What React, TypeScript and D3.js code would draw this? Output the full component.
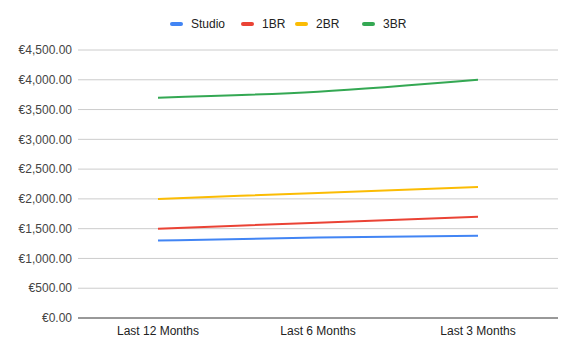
import React from "react";
import * as d3 from "d3";

const categories = ["Last 12 Months", "Last 6 Months", "Last 3 Months"];
const seriesNames = ["Studio", "1BR", "2BR", "3BR"];
const studio = [1300, 1350, 1380];
const br1 = [1500, 1600, 1700];
const br2 = [2000, 2100, 2200];
const br3 = [3700, 3800, 4000];
const colors = ["#4285F4", "#EA4335", "#FBBC04", "#34A853"];
const yTicks = [0, 500, 1000, 1500, 2000, 2500, 3000, 3500, 4000, 4500];

const W = 576;
const H = 356;
const FONT = "Arial, 'Liberation Sans', sans-serif";

export default function App() {
  const x = d3.scaleBand().domain(categories).range([78, 558]);
  const y = d3.scaleLinear().domain([0, 4500]).range([318, 50]);
  const data = [studio, br1, br2, br3];
  const line = d3
    .line<number>()
    .x((_, i) => (x(categories[i]) as number) + x.bandwidth() / 2)
    .y((d) => y(d))
    .curve(d3.curveMonotoneX);
  const fmt = (v: number) => "€" + d3.format(",.2f")(v);
  const legendX = [170, 241, 295, 362];

  return (
    <svg
      width={W}
      height={H}
      style={{ position: "absolute", left: 0, top: 0, background: "#fff" }}
      fontFamily={FONT}
    >
      <rect width={W} height={H} fill="#fff" />
      {yTicks.map((t) => (
        <g key={t}>
          {t !== 0 && (
            <line x1={78} x2={558} y1={y(t)} y2={y(t)} stroke="#cccccc" strokeWidth={1} />
          )}
          <text
            x={72}
            y={y(t)}
            dy="0.35em"
            textAnchor="end"
            fontSize={12}
            fill="#444"
          >
            {fmt(t)}
          </text>
        </g>
      ))}
      {categories.map((c) => (
        <text
          key={c}
          x={(x(c) as number) + x.bandwidth() / 2}
          y={331}
          dy="0.35em"
          textAnchor="middle"
          fontSize={12}
          fill="#222"
        >
          {c}
        </text>
      ))}
      {data.map((d, i) => (
        <path
          key={seriesNames[i]}
          d={line(d) as string}
          fill="none"
          stroke={colors[i]}
          strokeWidth={2}
          strokeLinejoin="round"
        />
      ))}
      <line x1={78} x2={558} y1={y(0)} y2={y(0)} stroke="#333" strokeWidth={1} />
      {seriesNames.map((s, i) => (
        <g key={s}>
          <rect x={legendX[i]} y={22} width={13} height={4} rx={2} fill={colors[i]} />
          <text x={legendX[i] + 21} y={24} dy="0.35em" fontSize={12} fill="#222">
            {s}
          </text>
        </g>
      ))}
    </svg>
  );
}
